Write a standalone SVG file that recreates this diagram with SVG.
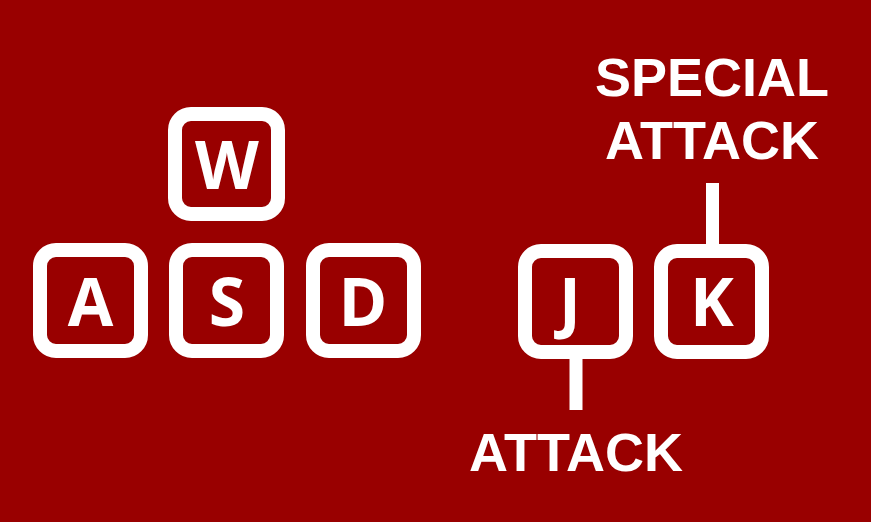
<svg xmlns="http://www.w3.org/2000/svg" width="871" height="522" viewBox="0 0 871 522">
<style>
.key{fill:none;stroke:#fff;stroke-width:14}
.kt{font-family:"Open Sans","DejaVu Sans",sans-serif;font-weight:700;font-size:66px;fill:#fff;text-anchor:middle}
.lb{font-family:"Liberation Sans",Arial,sans-serif;font-weight:700;font-size:54px;fill:#fff;text-anchor:middle}
.ln{stroke:#fff;stroke-width:13;fill:none}
</style>
<rect width="871" height="522" fill="#990000"/>
<g id="key-w"><rect class="key" x="175" y="114" width="103" height="100" rx="16"/><text class="kt" x="227" y="189">W</text></g>
<g id="key-a"><rect class="key" x="40" y="250" width="101" height="101" rx="16"/><text class="kt" x="90.5" y="326">A</text></g>
<g id="key-s"><rect class="key" x="176" y="250" width="101" height="101" rx="16"/><text class="kt" x="227" y="326">S</text></g>
<g id="key-d"><rect class="key" x="313" y="250" width="101" height="101" rx="16"/><text class="kt" x="363" y="326">D</text></g>
<g id="key-j"><rect class="key" x="525" y="251" width="101" height="101" rx="16"/><text class="kt" x="570" y="326">J</text></g>
<g id="key-k"><rect class="key" x="661" y="251" width="101" height="101" rx="16"/><text class="kt" x="712" y="326">K</text></g>
<g id="connectors">
<line class="ln" x1="712.5" y1="183" x2="712.5" y2="244"/>
<line class="ln" x1="576" y1="359" x2="576" y2="410"/>
</g>
<g id="label-special"><text class="lb" x="712" y="96">SPECIAL</text><text class="lb" x="712" y="159">ATTACK</text></g>
<g id="label-attack"><text class="lb" x="576" y="471">ATTACK</text></g>
</svg>
